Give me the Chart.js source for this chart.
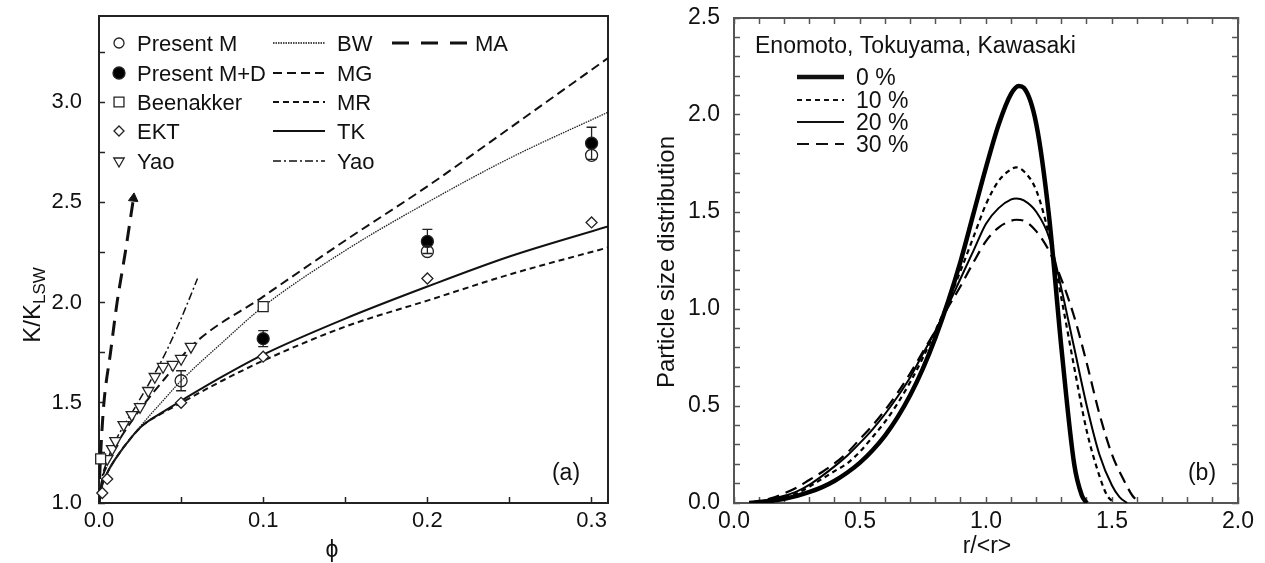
<!DOCTYPE html>
<html><head><meta charset="utf-8">
<script src="https://cdn.jsdelivr.net/npm/chart.js@4.4.1/dist/chart.umd.min.js"></script>
<style>
html,body{margin:0;padding:0;background:#fff;width:1265px;height:563px;overflow:hidden}
#ca{position:absolute;left:0;top:0}
#cb{position:absolute;left:632px;top:0}
</style></head><body>
<canvas id="ca" width="632" height="563"></canvas>
<canvas id="cb" width="633" height="563"></canvas>
<script>
// ---------- Panel (a) data ----------
const phiBW = [0, 0.002, 0.005, 0.01, 0.02, 0.027, 0.04, 0.05, 0.075, 0.1, 0.15, 0.2, 0.25, 0.31];
const kBW   = [1.0, 1.09, 1.15, 1.22, 1.33, 1.40, 1.52, 1.61, 1.80, 1.98, 2.26, 2.50, 2.72, 2.95];
const phiMG = [0, 0.002, 0.005, 0.01, 0.02, 0.03, 0.04, 0.056, 0.1, 0.15, 0.2, 0.25, 0.31];
const kMG   = [1.0, 1.12, 1.19, 1.28, 1.41, 1.52, 1.62, 1.78, 2.03, 2.31, 2.58, 2.87, 3.22];
const phiMR = [0, 0.002, 0.005, 0.01, 0.02, 0.027, 0.04, 0.05, 0.075, 0.1, 0.15, 0.2, 0.25, 0.31];
const kMR   = [1.0, 1.09, 1.15, 1.22, 1.33, 1.39, 1.455, 1.50, 1.61, 1.71, 1.88, 2.01, 2.14, 2.275];
const phiTK = [0, 0.002, 0.005, 0.01, 0.02, 0.027, 0.04, 0.05, 0.075, 0.1, 0.15, 0.2, 0.25, 0.31];
const kTK   = [1.0, 1.09, 1.15, 1.22, 1.33, 1.39, 1.46, 1.51, 1.63, 1.74, 1.92, 2.08, 2.23, 2.38];
const phiYaoLine = [0, 0.002, 0.005, 0.01, 0.02, 0.03, 0.04, 0.05, 0.06];
const kYaoLine   = [1.0, 1.13, 1.21, 1.31, 1.45, 1.59, 1.74, 1.92, 2.12];
const phiMA = [0, 0.0005, 0.0015, 0.003, 0.007, 0.011, 0.016, 0.021];
const kMA   = [1.0, 1.15, 1.32, 1.5, 1.75, 2.0, 2.25, 2.52];

const phiPresM = [0.05, 0.2, 0.3];
const kPresM   = [1.61, 2.255, 2.735];
const errPresM = [0.05, 0, 0];
const phiPresMD = [0.1, 0.2, 0.3];
const kPresMD   = [1.82, 2.305, 2.795];
const errPresMD = [0.04, 0.06, 0.08];
const phiBeen = [0.001, 0.1];
const kBeen   = [1.22, 1.98];
const phiEKT = [0.002, 0.005, 0.05, 0.1, 0.2, 0.3];
const kEKT   = [1.05, 1.12, 1.50, 1.73, 2.12, 2.40];
const phiYao = [0.005, 0.008, 0.01, 0.015, 0.02, 0.025, 0.03, 0.034, 0.039, 0.045, 0.05, 0.056];
const kYao   = [1.22, 1.27, 1.31, 1.39, 1.44, 1.48, 1.56, 1.63, 1.68, 1.69, 1.72, 1.78];

// ---------- Panel (b) data ----------
const r0  = [0.06,0.1,0.15,0.2,0.25,0.3,0.35,0.4,0.45,0.5,0.55,0.6,0.65,0.7,0.75,0.8,0.85,0.9,0.95,1.0,1.05,1.1,1.13,1.15,1.2,1.25,1.3,1.35,1.38,1.4];
const p0  = [0.0,0.005,0.012,0.022,0.037,0.057,0.082,0.115,0.157,0.208,0.272,0.349,0.444,0.558,0.694,0.855,1.04,1.25,1.49,1.73,1.95,2.11,2.15,2.14,1.95,1.48,0.79,0.2,0.04,0.0];
const r10 = [0.06,0.1,0.15,0.2,0.25,0.3,0.35,0.4,0.45,0.5,0.55,0.6,0.65,0.7,0.75,0.8,0.85,0.9,0.95,1.0,1.05,1.1,1.12,1.15,1.2,1.25,1.3,1.35,1.4,1.45,1.48,1.51];
const p10 = [0.0,0.005,0.015,0.03,0.05,0.085,0.125,0.165,0.205,0.265,0.34,0.42,0.515,0.625,0.75,0.89,1.04,1.2,1.37,1.54,1.66,1.72,1.73,1.71,1.61,1.38,1.05,0.7,0.37,0.14,0.04,0.0];
const r20 = [0.06,0.1,0.15,0.2,0.25,0.3,0.35,0.4,0.45,0.5,0.55,0.6,0.65,0.7,0.75,0.8,0.85,0.9,0.95,1.0,1.05,1.1,1.12,1.15,1.2,1.25,1.3,1.35,1.4,1.45,1.5,1.53,1.56];
const p20 = [0.0,0.007,0.02,0.037,0.06,0.095,0.14,0.19,0.245,0.31,0.38,0.46,0.55,0.65,0.77,0.89,1.02,1.16,1.3,1.44,1.52,1.565,1.57,1.56,1.5,1.37,1.1,0.8,0.5,0.25,0.09,0.03,0.0];
const r30 = [0.06,0.1,0.15,0.2,0.25,0.3,0.35,0.4,0.45,0.5,0.55,0.6,0.65,0.7,0.75,0.8,0.85,0.9,0.95,1.0,1.05,1.1,1.12,1.15,1.2,1.25,1.3,1.35,1.4,1.45,1.5,1.55,1.58,1.61];
const p30 = [0.0,0.01,0.025,0.05,0.08,0.12,0.16,0.205,0.26,0.33,0.40,0.48,0.57,0.67,0.78,0.89,1.01,1.12,1.24,1.35,1.42,1.455,1.46,1.455,1.40,1.30,1.15,0.96,0.72,0.46,0.25,0.11,0.04,0.0];

// ---------- helpers ----------
const FONT = "'Liberation Sans', Arial, Helvetica, sans-serif";
Chart.defaults.font.family = FONT;
Chart.defaults.color = '#111';
Chart.defaults.animation = false;
const pts = (xs, ys) => xs.map((x, i) => ({x, y: ys[i]}));
const isMul = (v, s) => Math.abs(v / s - Math.round(v / s)) < 1e-6;
const fix = (w, h) => (s) => {
  if (w !== null) s.width = w;
  if (h !== null) s.height = h;
  s.paddingTop = 0; s.paddingBottom = 0; s.paddingLeft = 0; s.paddingRight = 0;
};

function lineDS(label, xs, ys, dash, width, color) {
  return {label, data: pts(xs, ys), showLine: true, borderColor: color, borderWidth: width,
    borderDash: dash, pointRadius: 0, fill: false, cubicInterpolationMode: 'monotone', order: 3};
}
function markDS(label, xs, ys, style, r, fill, rot) {
  return {label, data: pts(xs, ys), showLine: false, pointStyle: style, pointRadius: r,
    pointBackgroundColor: fill, pointBorderColor: '#222', pointBorderWidth: 1.3,
    pointRotation: rot || 0, clip: false, order: 1};
}

// ---------- Panel (a) ----------
const maDS = lineDS('MA', phiMA, kMA, [15, 9], 3, '#111');
maDS.pointRadius = phiMA.map((v, i) => i === phiMA.length - 1 ? 5.5 : 0);
maDS.pointStyle = 'triangle';
maDS.pointRotation = 6;
maDS.pointBackgroundColor = '#111';
maDS.pointBorderColor = '#111';
maDS.pointBorderWidth = 1;

const dsA = [
  lineDS('BW', phiBW, kBW, [1.5, 1], 1.3, '#222'),
  lineDS('MG', phiMG, kMG, [9, 5], 2, '#111'),
  lineDS('MR', phiMR, kMR, [6, 4], 2, '#111'),
  lineDS('TK', phiTK, kTK, [], 2, '#111'),
  lineDS('Yao', phiYaoLine, kYaoLine, [8, 3, 2, 3], 1.5, '#111'),
  maDS,
  markDS('Present M', phiPresM, kPresM, 'circle', 6, 'rgba(0,0,0,0)'),
  markDS('Present M+D', phiPresMD, kPresMD, 'circle', 6, '#000'),
  markDS('Beenakker', phiBeen, kBeen, 'rect', 7, '#fff'),
  markDS('EKT', phiEKT, kEKT, 'rectRot', 5.5, '#fff'),
  markDS('Yao', phiYao, kYao, 'triangle', 6.5, '#fff', 180)
];

function drawMarker(ctx, style, x, y, r, fill, rot) {
  ctx.save();
  ctx.strokeStyle = '#222'; ctx.lineWidth = 1.3; ctx.fillStyle = fill;
  Chart.helpers.drawPoint(ctx, {pointStyle: style, radius: r, rotation: rot || 0, borderWidth: 1.3}, x, y);
  ctx.restore();
}
function seg(ctx, x1, x2, y, dash, w) {
  ctx.save(); ctx.strokeStyle = '#111'; ctx.lineWidth = w; ctx.setLineDash(dash);
  ctx.beginPath(); ctx.moveTo(x1, y); ctx.lineTo(x2, y); ctx.stroke(); ctx.restore();
}

const pluginA = {
  id: 'decorA',
  beforeDatasetsDraw(chart) {
    const {ctx, scales: {x, y}} = chart;
    ctx.save(); ctx.strokeStyle = '#222'; ctx.lineWidth = 1.3;
    const bars = [[phiPresM, kPresM, errPresM], [phiPresMD, kPresMD, errPresMD]];
    bars.forEach(([px, ky, e]) => px.forEach((p, i) => {
      if (!e[i]) return;
      const cx = x.getPixelForValue(p), yt = y.getPixelForValue(ky[i] + e[i]), yb = y.getPixelForValue(ky[i] - e[i]);
      ctx.beginPath(); ctx.moveTo(cx, yt); ctx.lineTo(cx, yb);
      ctx.moveTo(cx - 5, yt); ctx.lineTo(cx + 5, yt);
      ctx.moveTo(cx - 5, yb); ctx.lineTo(cx + 5, yb); ctx.stroke();
    }));
    ctx.restore();
  },
  afterDraw(chart) {
    const ctx = chart.ctx;
    ctx.save();
    ctx.fillStyle = '#111';
    ctx.font = '22px ' + FONT; ctx.textBaseline = 'alphabetic'; ctx.textAlign = 'left';
    const rows = [43, 73, 102, 131, 161];
    const names1 = ['Present M', 'Present M+D', 'Beenakker', 'EKT', 'Yao'];
    const mk = [['circle', 5, 'rgba(0,0,0,0)', 0], ['circle', 6, '#000', 0], ['rect', 7, '#fff', 0], ['rectRot', 5, '#fff', 0], ['triangle', 6, '#fff', 180]];
    rows.forEach((ry, i) => {
      drawMarker(ctx, mk[i][0], 119, ry, mk[i][1], mk[i][2], mk[i][3]);
      ctx.fillText(names1[i], 137, ry + 8);
    });
    const names2 = ['BW', 'MG', 'MR', 'TK', 'Yao'];
    const dashes = [[[1.5, 1], 1.3], [[9, 5], 2], [[6, 4], 2], [[], 2], [[8, 3, 2, 3], 1.5]];
    rows.forEach((ry, i) => {
      seg(ctx, 273, 325, ry, dashes[i][0], dashes[i][1]);
      ctx.fillText(names2[i], 337, ry + 8);
    });
    seg(ctx, 392, 467, rows[0], [17, 12], 3);
    ctx.fillText('MA', 475, rows[0] + 8);
    // panel label
    ctx.font = '23px ' + FONT; ctx.textAlign = 'center';
    ctx.fillText('(a)', 566, 480);
    // x title
    ctx.fillText('\u03D5', 332, 557);
    // y title with subscript
    ctx.translate(40, 305); ctx.rotate(-Math.PI / 2);
    ctx.font = '24px ' + FONT;
    const w1 = ctx.measureText('K/K').width;
    ctx.font = '17px ' + FONT;
    const w2 = ctx.measureText('LSW').width;
    const x0 = -(w1 + w2) / 2;
    ctx.textAlign = 'left';
    ctx.font = '24px ' + FONT; ctx.fillText('K/K', x0, 0);
    ctx.font = '17px ' + FONT; ctx.fillText('LSW', x0 + w1, 5);
    ctx.restore();
  }
};

new Chart(document.getElementById('ca'), {
  type: 'scatter',
  data: {datasets: dsA},
  options: {
    responsive: false, events: [],
    layout: {padding: {top: 16, right: 24, left: 0, bottom: 0}},
    plugins: {legend: {display: false}, tooltip: {enabled: false}},
    scales: {
      x: {type: 'linear', position: 'bottom', min: 0, max: 0.31,
        ticks: {stepSize: 0.05, autoSkip: false, includeBounds: false, maxRotation: 0, padding: 11,
          font: {size: 22}, color: '#111', callback: v => isMul(v, 0.1) ? v.toFixed(1) : ''},
        grid: {drawOnChartArea: false, drawTicks: true, tickLength: -6, tickColor: '#222', tickWidth: 1.5},
        border: {display: true, color: '#222', width: 2}, afterFit: fix(null, 60)},
      y: {type: 'linear', position: 'left', min: 1.0, max: 3.43,
        ticks: {stepSize: 0.25, autoSkip: false, includeBounds: false, padding: 23,
          font: {size: 22}, color: '#111', callback: v => isMul(v, 0.5) ? v.toFixed(1) : ''},
        grid: {drawOnChartArea: false, drawTicks: true, tickLength: -6, tickColor: '#222', tickWidth: 1.5},
        border: {display: true, color: '#222', width: 2}, afterFit: fix(99, null)},
      x2: {type: 'linear', position: 'top', min: 0, max: 0.31, ticks: {display: false},
        grid: {display: false}, border: {display: true, color: '#222', width: 2}, afterFit: fix(null, 0)},
      y2: {type: 'linear', position: 'right', min: 1.0, max: 3.43, ticks: {display: false},
        grid: {display: false}, border: {display: true, color: '#222', width: 2}, afterFit: fix(0, null)}
    }
  },
  plugins: [pluginA]
});

// ---------- Panel (b) ----------
const dsB = [
  lineDS('0 %', r0, p0, [], 4.5, '#000'),
  lineDS('10 %', r10, p10, [5, 4], 2.2, '#000'),
  lineDS('20 %', r20, p20, [], 2, '#000'),
  lineDS('30 %', r30, p30, [12, 7], 2.2, '#000')
];
const pluginB = {
  id: 'decorB',
  afterDraw(chart) {
    const ctx = chart.ctx;
    const off = 632;
    ctx.save();
    ctx.fillStyle = '#111';
    ctx.font = '23px ' + FONT; ctx.textAlign = 'left'; ctx.textBaseline = 'alphabetic';
    ctx.fillText('Enomoto, Tokuyama, Kawasaki', 755 - off, 53);
    const rows = [77, 100, 122, 144];
    const labs = ['0 %', '10 %', '20 %', '30 %'];
    const st = [[[], 4.5], [[5, 4], 2.2], [[], 2], [[12, 7], 2.2]];
    rows.forEach((ry, i) => {
      seg(ctx, 797 - off, 844 - off, ry, st[i][0], st[i][1]);
      ctx.fillText(labs[i], 856 - off, ry + 8);
    });
    ctx.textAlign = 'center';
    ctx.fillText('(b)', 1202 - off, 480);
    ctx.fillText('r/<r>', 987 - off, 553);
    ctx.translate(674 - off, 262); ctx.rotate(-Math.PI / 2);
    ctx.font = '24px ' + FONT;
    ctx.fillText('Particle size distribution', 0, 0);
    ctx.restore();
  }
};
const gridB = {drawOnChartArea: false, drawTicks: true, tickLength: -6, tickColor: '#555', tickWidth: 1.5};
const borderB = {display: true, color: '#555', width: 2};
new Chart(document.getElementById('cb'), {
  type: 'scatter',
  data: {datasets: dsB},
  options: {
    responsive: false, events: [],
    layout: {padding: {top: 18, right: 27, left: 0, bottom: 0}},
    plugins: {legend: {display: false}, tooltip: {enabled: false}},
    scales: {
      x: {type: 'linear', position: 'bottom', min: 0, max: 2.0,
        ticks: {stepSize: 0.1, autoSkip: false, includeBounds: false, maxRotation: 0, padding: 11,
          font: {size: 23}, color: '#111', callback: v => isMul(v, 0.5) ? v.toFixed(1) : ''},
        grid: gridB, border: borderB, afterFit: fix(null, 60)},
      y: {type: 'linear', position: 'left', min: 0, max: 2.5,
        ticks: {stepSize: 0.1, autoSkip: false, includeBounds: false, padding: 20,
          font: {size: 23}, color: '#111', callback: v => isMul(v, 0.5) ? v.toFixed(1) : ''},
        grid: gridB, border: borderB, afterFit: fix(102, null)},
      x2: {type: 'linear', position: 'top', min: 0, max: 2.0,
        ticks: {stepSize: 0.1, autoSkip: false, includeBounds: false, display: false},
        grid: gridB, border: borderB, afterFit: fix(null, 0)},
      y2: {type: 'linear', position: 'right', min: 0, max: 2.5,
        ticks: {stepSize: 0.1, autoSkip: false, includeBounds: false, display: false},
        grid: gridB, border: borderB, afterFit: fix(0, null)}
    }
  },
  plugins: [pluginB]
});
</script>
</body></html>
